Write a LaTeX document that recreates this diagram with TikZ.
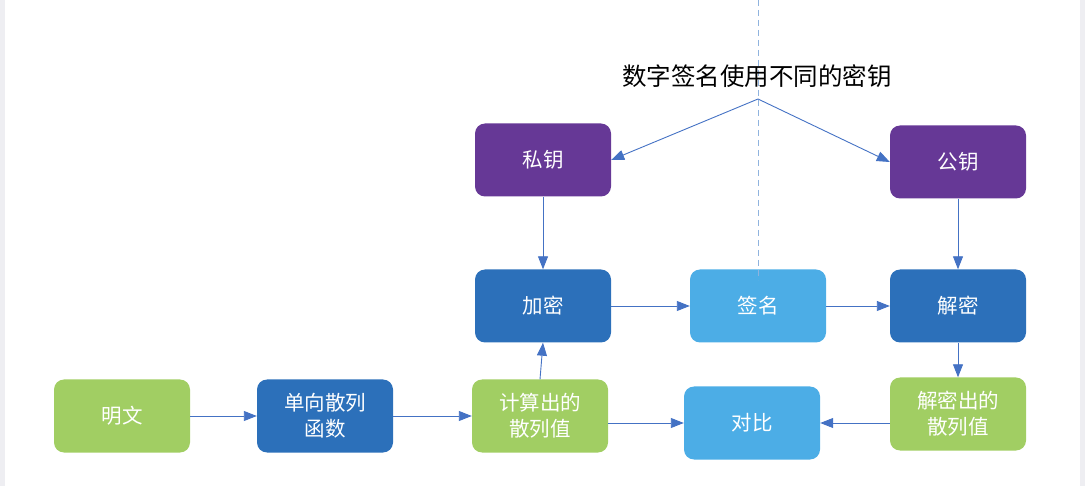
\documentclass[tikz,border=0pt]{standalone}
\usepackage{fontspec}
\setmainfont{Noto Sans CJK SC}
\usepackage{xcolor}
\usepackage{tikz}
\usetikzlibrary{arrows.meta,positioning}

\definecolor{hashgreen}{RGB}{161,206,99}
\definecolor{procblue}{RGB}{44,112,186}
\definecolor{signblue}{RGB}{76,173,230}
\definecolor{keypurple}{RGB}{102,56,150}
\definecolor{arrowblue}{RGB}{68,114,196}
\definecolor{dashblue}{RGB}{143,179,222}
\definecolor{edgegray}{RGB}{238,238,242}

\begin{document}
\begin{tikzpicture}[
    x=1pt, y=-1pt,
    box/.style={rounded corners=10pt, minimum width=136pt, minimum height=73pt, align=center,
        text=white, font=\fontsize{20.5}{26}\selectfont, inner sep=2pt},
    arr/.style={-{Triangle[length=13pt,width=10pt]}, arrowblue, line width=0.9pt},
]
% Page and side strips
\useasboundingbox (0,0) rectangle (1085,486);
\fill[edgegray] (0,0) rectangle (5,486);
\fill[edgegray] (1080,0) rectangle (1085,486);

% Nodes
\node (plain) [box, fill=hashgreen] at (122,416) {明文};
\node (hashfn) [box, fill=procblue] at (325,416) {单向散列\\函数};
\node (hash) [box, fill=hashgreen] at (540,416) {计算出的\\散列值};
\node (cmp) [box, fill=signblue] at (752,423) {对比};
\node (dhash) [box, fill=hashgreen] at (958,414) {解密出的\\散列值};
\node (priv) [box, fill=keypurple] at (543,160) {私钥};
\node (pub) [box, fill=keypurple] at (958,162) {公钥};
\node (enc) [box, fill=procblue] at (543,306) {加密};
\node (sig) [box, fill=signblue] at (758,306) {签名};
\node (dec) [box, fill=procblue] at (958,306) {解密};

% Title and key split
\coordinate (top) at (758,0);
\coordinate (cut) at (758,280);
\coordinate (fork) at (758,99);
\draw[dashblue, line width=0.9pt, dash pattern=on 6pt off 4pt] (top) -- (cut);
\node (title) [font=\fontsize{24.5}{30}\selectfont, inner sep=0pt] at (757,76) {数字签名使用不同的密钥};
\draw[arr] (fork) -- (priv.east);
\draw[arr] (fork) -- (pub.west);

% Signing side
\draw[arr] (plain) -- (hashfn);
\draw[arr] (hashfn) -- (hash);
\draw[arr] (hash.north) -- (enc.south);
\draw[arr] (priv) -- (enc);
\draw[arr] (enc) -- (sig);

% Verifying side
\draw[arr] (sig) -- (dec);
\draw[arr] (pub) -- (dec);
\draw[arr] (dec) -- (dhash);
\draw[arr] (hash.east |- cmp.west) -- (cmp.west);
\draw[arr] (dhash.west |- cmp.east) -- (cmp.east);
\end{tikzpicture}
\end{document}
